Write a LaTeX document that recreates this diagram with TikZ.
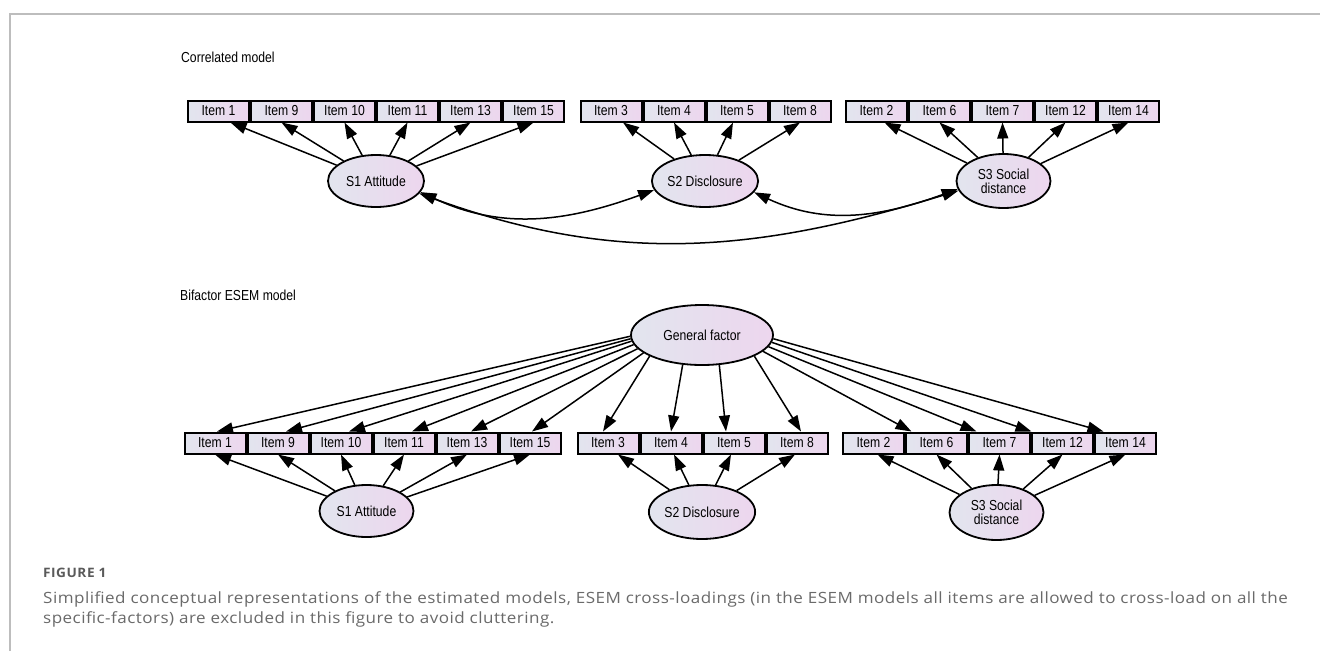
\documentclass[tikz,border=0pt]{standalone}
\usepackage{fontspec}
\setmainfont{Liberation Sans}
\newfontfamily\diagfont[FakeStretch=0.84]{Liberation Sans}
\newfontfamily\capfont[FakeStretch=1.1,LetterSpace=3]{Open Sans}
\newfontfamily\figfont[FakeStretch=1.05,LetterSpace=4]{Open Sans}
\usetikzlibrary{shapes.geometric,arrows.meta,calc}
\definecolor{bxL}{HTML}{E2E5EE}
\definecolor{bxR}{HTML}{EDD6EE}
\definecolor{framegray}{HTML}{BDBDBD}
\definecolor{capgray}{HTML}{6A6A6A}
\definecolor{figgray}{HTML}{5A5A5A}
\tikzset{
  itembox/.style={draw=black, line width=2pt, minimum width=61pt, minimum height=21pt,
    inner sep=0pt, left color=bxL, right color=bxR,
    font=\diagfont\fontsize{14.5}{16}\selectfont},
  latent/.style={ellipse, draw=black, line width=1.8pt, inner sep=0pt,
    left color=bxL, right color=bxR, align=center,
    font=\diagfont\fontsize{14.5}{16}\selectfont},
  load/.style={-{Triangle[length=16pt,width=11pt]}, line width=1.5pt},
  cov/.style={{Triangle[length=16pt,width=11pt]}-{Triangle[length=16pt,width=11pt]}, line width=1.5pt},
  heading/.style={anchor=west, inner sep=0pt, font=\diagfont\fontsize{14.5}{16}\selectfont},
  framel/.style={draw=framegray, line width=1.5pt}
}
\begin{document}
\begin{tikzpicture}[x=1pt,y=-1pt]
\useasboundingbox[fill=white] (0,0) rectangle (1320,651);
\draw[framel] (10,651) -- (10,14) -- (1320,14);

% ---------- Correlated model ----------
\node[heading] (lab1) at (181,57) {Correlated model};

\node[itembox] (c1)  at (218.5,111) {Item 1};
\node[itembox] (c9)  at (281.5,111) {Item 9};
\node[itembox] (c10) at (344.5,111) {Item 10};
\node[itembox] (c11) at (407.5,111) {Item 11};
\node[itembox] (c13) at (470.5,111) {Item 13};
\node[itembox] (c15) at (533.5,111) {Item 15};
\node[itembox] (c3)  at (611,111) {Item 3};
\node[itembox] (c4)  at (674,111) {Item 4};
\node[itembox] (c5)  at (737,111) {Item 5};
\node[itembox] (c8)  at (800,111) {Item 8};
\node[itembox] (c2)  at (876.5,111) {Item 2};
\node[itembox] (c6)  at (939.5,111) {Item 6};
\node[itembox] (c7)  at (1002.5,111) {Item 7};
\node[itembox] (c12) at (1065.5,111) {Item 12};
\node[itembox] (c14) at (1128.5,111) {Item 14};

\node[latent, minimum width=96pt, minimum height=52pt] (S1t) at (376,181) {S1 Attitude};
\node[latent, minimum width=96pt, minimum height=52pt] (S2t) at (705,181) {S2 Disclosure};
\node[latent, minimum width=94pt, minimum height=54pt] (S3t) at (1003.5,181) {S3 Social\\[-2pt]distance};

\draw[load] (S1t) -- ([xshift=12pt]c1.south);
\draw[load] (S1t) -- (c9.south);
\draw[load] (S1t) -- (c10.south);
\draw[load] (S1t) -- (c11.south);
\draw[load] (S1t) -- (c13.south);
\draw[load] (S1t) -- (c15.south);
\draw[load] (S2t) -- ([xshift=12pt]c3.south);
\draw[load] (S2t) -- (c4.south);
\draw[load] (S2t) -- ([xshift=-4pt]c5.south);
\draw[load] (S2t) -- (c8.south);
\draw[load] (S3t) -- ([xshift=8pt]c2.south);
\draw[load] (S3t) -- (c6.south);
\draw[load] (S3t) -- (c7.south);
\draw[load] (S3t) -- (c12.south);
\draw[load] (S3t) -- (c14.south);

\draw[cov] (S1t.-14) to[out=-25,in=200] (S2t.190);
\draw[cov] (S2t.-13) to[out=-25,in=200] (S3t.190);
\draw[cov] (S1t.-16) to[out=-20,in=197] (S3t.192);

% ---------- Bifactor ESEM model ----------
\node[heading] (lab2) at (180,295) {Bifactor ESEM model};

\node[itembox] (b1)  at (215,443) {Item 1};
\node[itembox] (b9)  at (278,443) {Item 9};
\node[itembox] (b10) at (341,443) {Item 10};
\node[itembox] (b11) at (404,443) {Item 11};
\node[itembox] (b13) at (467,443) {Item 13};
\node[itembox] (b15) at (530,443) {Item 15};
\node[itembox] (b3)  at (608,443) {Item 3};
\node[itembox] (b4)  at (671,443) {Item 4};
\node[itembox] (b5)  at (734,443) {Item 5};
\node[itembox] (b8)  at (797,443) {Item 8};
\node[itembox] (b2)  at (873.5,443) {Item 2};
\node[itembox] (b6)  at (936.5,443) {Item 6};
\node[itembox] (b7)  at (999.5,443) {Item 7};
\node[itembox] (b12) at (1062.5,443) {Item 12};
\node[itembox] (b14) at (1125.5,443) {Item 14};

\node[latent, minimum width=142pt, minimum height=60pt] (G) at (702,335) {General factor};
\node[latent, minimum width=94pt, minimum height=52pt] (S1b) at (366.5,511) {S1 Attitude};
\node[latent, minimum width=94pt, minimum height=54pt] (S2b) at (702,512) {S2 Disclosure};
\node[latent, minimum width=94pt, minimum height=55pt] (S3b) at (996.5,512.5) {S3 Social\\[-2pt]distance};

\draw[load] (G.181) -- ([xshift=2pt]b1.north);
\draw[load] (G.183) -- ([xshift=8pt]b9.north);
\draw[load] (G.185) -- ([xshift=8pt]b10.north);
\draw[load] (G.188) -- ([xshift=8pt]b11.north);
\draw[load] (G.192) -- ([xshift=4pt]b13.north);
\draw[load] (G.197) -- ([xshift=2pt]b15.north);
\draw[load] (G.202) -- ([xshift=-5pt]b3.north);
\draw[load] (G.237) -- (b4.north);
\draw[load] (G.-60) -- ([xshift=-8pt]b5.north);
\draw[load] (G.-22) -- ([xshift=4pt]b8.north);
\draw[load] (G.-15) -- ([xshift=-25pt]b6.north);
\draw[load] (G.-10) -- ([xshift=-23pt]b7.north);
\draw[load] (G.-6) -- ([xshift=-31pt]b12.north);
\draw[load] (G.-3) -- ([xshift=-22pt]b14.north);

\draw[load] (S1b) -- (b1.south);
\draw[load] (S1b) -- (b9.south);
\draw[load] (S1b) -- (b10.south);
\draw[load] (S1b) -- (b11.south);
\draw[load] (S1b) -- (b13.south);
\draw[load] (S1b) -- (b15.south);
\draw[load] (S2b) -- ([xshift=10pt]b3.south);
\draw[load] (S2b) -- ([xshift=3pt]b4.south);
\draw[load] (S2b) -- ([xshift=-3pt]b5.south);
\draw[load] (S2b) -- ([xshift=-2pt]b8.south);
\draw[load] (S3b) -- ([xshift=4pt]b2.south);
\draw[load] (S3b) -- (b6.south);
\draw[load] (S3b) -- (b7.south);
\draw[load] (S3b) -- (b12.south);
\draw[load] (S3b) -- (b14.south);

% ---------- Caption ----------
\node[anchor=base west, inner sep=0pt, text=figgray, font=\figfont\bfseries\fontsize{13}{15}\selectfont] (fig) at (43,577) {FIGURE 1};
\node[anchor=base west, inner sep=0pt, text=capgray, align=left, font=\capfont\fontsize{15.5}{20}\selectfont] (cap) at (43,623)
  {Simplified conceptual representations of the estimated models, ESEM cross-loadings (in the ESEM models all items are allowed to cross-load on all the\\
   specific-factors) are excluded in this figure to avoid cluttering.};
\end{tikzpicture}
\end{document}
